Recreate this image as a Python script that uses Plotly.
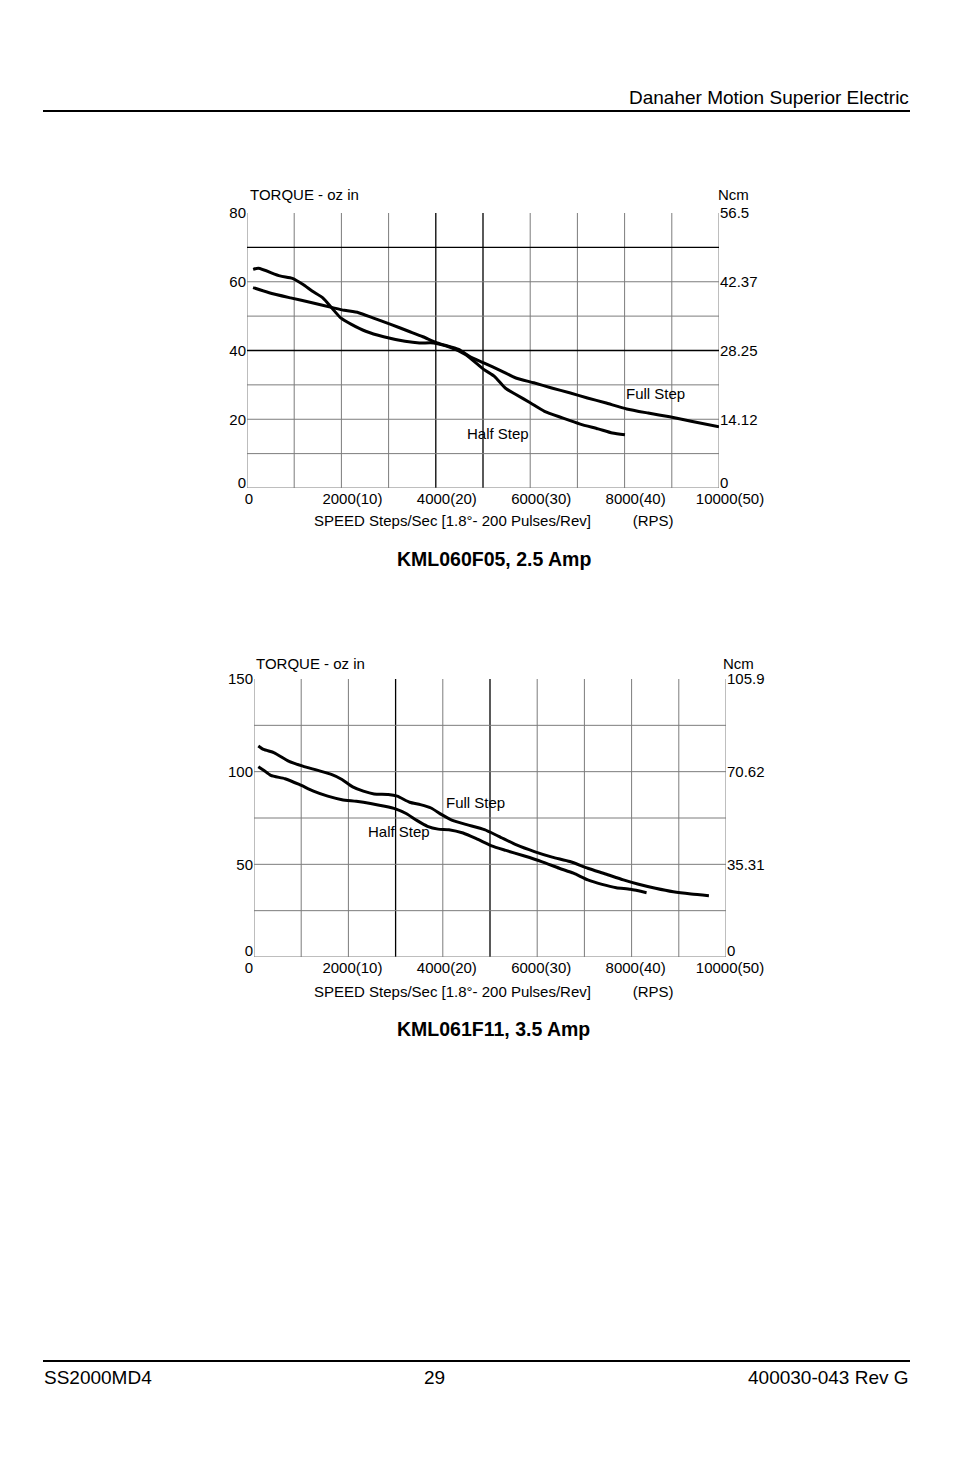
import plotly.graph_objects as go

# page is shown with the browser's 8px body margin, so the figure is placed 8px in
OFF = 8
W, H = 954 - 2 * OFF, 1475 - 2 * OFF

# ---------------- data: top chart (KML060F05) ----------------
top_half_x = [130, 242, 697, 962, 1189, 1379, 1606, 1795, 1985, 2212, 2515, 2894, 3348, 3652, 3955,
              4333, 4636, 5015, 5242, 5470, 5697, 6000, 6303, 6682, 7061, 7439, 7742, 8008]
top_half_y = [63.6, 63.9, 61.7, 61.0, 59.2, 57.3, 55.3, 52.4, 49.5, 47.6, 45.6, 44.0, 42.7, 42.2, 42.2,
              40.8, 38.8, 34.5, 32.5, 29.1, 27.2, 24.8, 22.3, 20.4, 18.6, 17.2, 16.0, 15.5]
top_full_x = [129, 470, 924, 1379, 1833, 2061, 2364, 2667, 3045, 3424, 3727, 4030, 4485, 4712, 5015,
              5394, 5697, 6076, 6455, 6833, 7212, 7591, 8045, 8500, 8955, 9409, 10000]
top_full_y = [58.3, 56.8, 55.3, 53.9, 52.4, 51.7, 51.0, 49.5, 47.6, 45.6, 44.0, 42.2, 40.3, 38.3, 36.4,
              34.0, 32.0, 30.6, 29.1, 27.7, 26.2, 24.8, 23.0, 21.8, 20.7, 19.4, 17.8]

# ---------------- data: bottom chart (KML061F11) ----------------
bot_full_x = [91, 204, 430, 732, 1034, 1336, 1638, 1864, 2091, 2317, 2543, 2845, 3034, 3298, 3525,
              3751, 3977, 4204, 4506, 4883, 5185, 5562, 5940, 6317, 6694, 7072, 7449, 7826, 8128,
              8506, 8883, 9260, 9638]
bot_full_y = [113.9, 112.0, 110.2, 105.7, 103.0, 100.8, 98.5, 95.8, 91.8, 89.5, 88.0, 87.7, 86.8, 83.5,
              82.2, 80.4, 76.8, 73.7, 71.4, 68.7, 65.1, 60.5, 56.9, 53.9, 51.5, 47.9, 44.8, 41.6, 39.4,
              37.1, 35.2, 34.0, 33.1]
bot_half_x = [91, 204, 355, 657, 958, 1260, 1562, 1864, 2166, 2468, 2770, 2996, 3223, 3449, 3675,
              3902, 4128, 4430, 4732, 5034, 5336, 5713, 6091, 6468, 6770, 7072, 7374, 7675, 7977, 8317]
bot_half_y = [102.7, 100.8, 98.0, 96.2, 93.1, 89.5, 86.8, 84.9, 84.0, 82.8, 81.3, 79.9, 77.4, 73.7,
              70.5, 69.0, 68.7, 66.9, 63.6, 60.0, 57.5, 54.6, 51.5, 47.9, 45.2, 41.6, 39.2, 37.4, 36.5, 34.7]

# ---------------- tick labels ----------------
x_tickvals = [2000, 4000, 6000, 8000, 10000]
x_ticktext = ["2000(10)", "4000(20)", "6000(30)", "8000(40)", "10000(50)"]
top_y_tickvals = [20, 40, 60, 80]
top_y_ticktext = ["20", "40", "60", "80"]
top_ncm_ticktext = ["14.12", "28.25", "42.37", "56.5"]
bot_y_tickvals = [50, 100, 150]
bot_y_ticktext = ["50", "100", "150"]
bot_ncm_ticktext = ["35.31", "70.62", "105.9"]

FONT = "Arial, 'Liberation Sans', Helvetica, sans-serif"
GRAY = "#7c7c7c"
FS = 15      # chart text size
PAGE_FS = 19  # page header/footer size


def px(x):
    return (x - OFF) / W


def py(y):
    return 1 - (y - OFF) / H


fig = go.Figure()
line_style = dict(color="black", width=3, shape="spline", smoothing=0.6)
fig.add_trace(go.Scatter(x=top_half_x, y=top_half_y, mode="lines", line=line_style, xaxis="x", yaxis="y", name="Half Step"))
fig.add_trace(go.Scatter(x=top_full_x, y=top_full_y, mode="lines", line=line_style, xaxis="x", yaxis="y", name="Full Step"))
fig.add_trace(go.Scatter(x=bot_full_x, y=bot_full_y, mode="lines", line=line_style, xaxis="x2", yaxis="y3", name="Full Step"))
fig.add_trace(go.Scatter(x=bot_half_x, y=bot_half_y, mode="lines", line=line_style, xaxis="x2", yaxis="y3", name="Half Step"))
# invisible traces so overlay axes render
for xa, ya in [("x3", "y2"), ("x", "y5"), ("x", "y6"), ("x4", "y4"), ("x2", "y7"), ("x2", "y8")]:
    fig.add_trace(go.Scatter(x=[None], y=[None], xaxis=xa, yaxis=ya, showlegend=False, hoverinfo="skip"))

tickfont = dict(family=FONT, size=FS, color="black")
top_dom_x = [px(247), px(719)]
top_dom_y = [py(488), py(213)]
bot_dom_x = [px(254), px(726)]
bot_dom_y = [py(957), py(679)]

common_x = dict(range=[0, 10000], showgrid=False, zeroline=False, showline=False, ticks="",
                tickfont=tickfont, fixedrange=True, automargin=False)
common_y = dict(showgrid=False, zeroline=False, showline=False, ticks="", tickfont=tickfont,
                fixedrange=True, automargin=False)

fig.update_layout(
    width=W, height=H, margin=dict(l=0, r=0, t=0, b=0, pad=0, autoexpand=False),
    autosize=False,
    paper_bgcolor="white", plot_bgcolor="white", showlegend=False,
    font=dict(family=FONT, color="black"),
    # top chart
    xaxis=dict(domain=top_dom_x, anchor="y", tickmode="array", tickvals=[0], ticktext=["0"],
               ticklabelshift=2, **common_x),
    xaxis3=dict(overlaying="x", anchor="y", tickmode="array", tickvals=x_tickvals, ticktext=x_ticktext,
                ticklabelshift=11, **common_x),
    yaxis=dict(domain=top_dom_y, anchor="x", range=[0, 80], tickmode="array",
               tickvals=top_y_tickvals, ticktext=top_y_ticktext, **common_y),
    yaxis2=dict(overlaying="y", anchor="x", side="right", range=[0, 80], tickmode="array",
                tickvals=top_y_tickvals, ticktext=top_ncm_ticktext, **common_y),
    yaxis5=dict(overlaying="y", anchor="x", range=[0, 80], tickmode="array",
                tickvals=[0], ticktext=["0"], ticklabelshift=-5, **common_y),
    yaxis6=dict(overlaying="y", anchor="x", side="right", range=[0, 80], tickmode="array",
                tickvals=[0], ticktext=["0"], ticklabelshift=-5, **common_y),
    # bottom chart
    xaxis2=dict(domain=bot_dom_x, anchor="y3", tickmode="array", tickvals=[0], ticktext=["0"],
                ticklabelshift=-5, **common_x),
    xaxis4=dict(overlaying="x2", anchor="y3", tickmode="array", tickvals=x_tickvals, ticktext=x_ticktext,
                ticklabelshift=4, **common_x),
    yaxis3=dict(domain=bot_dom_y, anchor="x2", range=[0, 150], tickmode="array",
                tickvals=bot_y_tickvals, ticktext=bot_y_ticktext, **common_y),
    yaxis4=dict(overlaying="y3", anchor="x2", side="right", range=[0, 150], tickmode="array",
                tickvals=bot_y_tickvals, ticktext=bot_ncm_ticktext, **common_y),
    yaxis7=dict(overlaying="y3", anchor="x2", range=[0, 150], tickmode="array",
                tickvals=[0], ticktext=["0"], ticklabelshift=-6, **common_y),
    yaxis8=dict(overlaying="y3", anchor="x2", side="right", range=[0, 150], tickmode="array",
                tickvals=[0], ticktext=["0"], ticklabelshift=-6, **common_y),
)

shapes = []
# grid: top chart
for v in range(0, 10001, 1000):
    dark = v in (4000, 5000)
    shapes.append(dict(type="line", xref="x", yref="y", x0=v, x1=v, y0=0, y1=80, layer="below",
                       line=dict(color="black" if dark else GRAY, width=1.3 if dark else 1)))
for v in range(0, 80, 10):
    dark = v in (40, 70)
    shapes.append(dict(type="line", xref="x", yref="y", x0=0, x1=10000, y0=v, y1=v, layer="below",
                       line=dict(color="black" if dark else GRAY, width=1.3 if dark else 1)))
# grid: bottom chart
for v in range(0, 10001, 1000):
    dark = v in (3000, 5000)
    shapes.append(dict(type="line", xref="x2", yref="y3", x0=v, x1=v, y0=0, y1=150, layer="below",
                       line=dict(color="black" if dark else GRAY, width=1.3 if dark else 1)))
for v in range(0, 150, 25):
    shapes.append(dict(type="line", xref="x2", yref="y3", x0=0, x1=10000, y0=v, y1=v, layer="below",
                       line=dict(color=GRAY, width=1)))
# page header / footer rules
shapes.append(dict(type="line", xref="paper", yref="paper", x0=px(43), x1=px(910), y0=py(111), y1=py(111),
                   line=dict(color="black", width=2)))
shapes.append(dict(type="line", xref="paper", yref="paper", x0=px(43), x1=px(910), y0=py(1361), y1=py(1361),
                   line=dict(color="black", width=2)))
fig.update_layout(shapes=shapes)

ann = []


def add(text, x, y, size=FS, xanchor="center", bold=False, xref="paper", yref="paper"):
    ann.append(dict(text=f"<b>{text}</b>" if bold else text, x=x, y=y, xref=xref, yref=yref,
                    xanchor=xanchor, yanchor="middle", showarrow=False,
                    font=dict(family=FONT, size=size, color="black")))


add("Danaher Motion Superior Electric", px(911), py(97), size=PAGE_FS, xanchor="right")
add("SS2000MD4", px(42), py(1377), size=PAGE_FS, xanchor="left")
add("29", px(434), py(1377), size=PAGE_FS)
add("400030-043 Rev G", px(911), py(1377), size=PAGE_FS, xanchor="right")

# top chart texts
add("TORQUE - oz in", px(248), py(195), xanchor="left")
add("Ncm", px(733), py(195))
add("SPEED Steps/Sec [1.8°- 200 Pulses/Rev]          (RPS)", px(493), py(521))
add("KML060F05, 2.5 Amp", px(494), py(559), size=19.5, bold=True)
add("Full Step", 8644, 27.4, xref="x", yref="y")
add("Half Step", 5318, 16.0, xref="x", yref="y")

# bottom chart texts
add("TORQUE - oz in", px(254), py(664), xanchor="left")
add("Ncm", px(738), py(664))
add("SPEED Steps/Sec [1.8°- 200 Pulses/Rev]          (RPS)", px(493), py(991))
add("KML061F11, 3.5 Amp", px(494), py(1029), size=19.5, bold=True)
add("Full Step", 4703, 83.6, xref="x2", yref="y3")
add("Half Step", 3072, 67.5, xref="x2", yref="y3")

fig.update_layout(annotations=ann)
fig.write_html("out.html")
